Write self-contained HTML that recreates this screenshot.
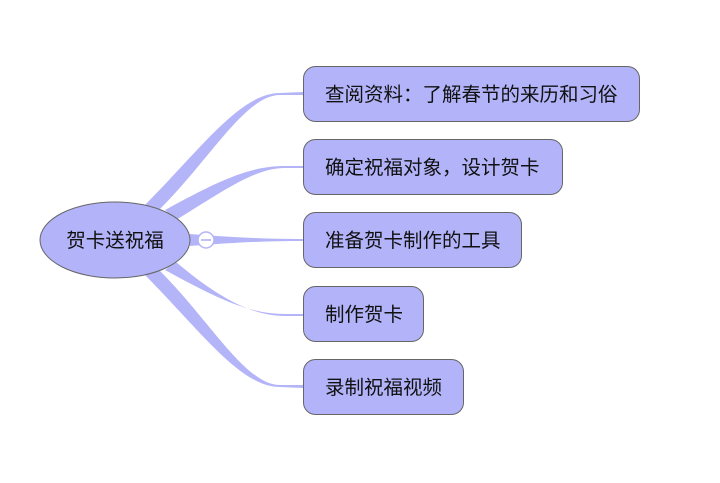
<!DOCTYPE html>
<html><head><meta charset="utf-8"><style>
body{margin:0;background:#fff;width:720px;height:478px;overflow:hidden}
svg text{font-family:"Liberation Sans","Noto Sans CJK SC",sans-serif;font-size:19.5px;fill:#111}
</style></head><body>
<svg width="720" height="478" viewBox="0 0 720 478" xmlns="http://www.w3.org/2000/svg">
<g fill="#b4b4f8">
<path d="M143,207 C200,150 240,93 280,93 L303,92 L303,95 L280,95 C245,95 210,160 157,212 Z"/>
<path d="M165,210 C220,180 250,166 285,166 L303,166 L303,168 L285,168 C255,168 225,190 176,220 Z"/>
<path d="M190,234 C240,238 270,239 303,239 L303,241 C270,241 240,242 190,246 Z"/>
<path d="M165,270 C220,300 250,314 285,314 L303,314 L303,316 L285,316 C250,316 215,295 176,262 Z"/>
<path d="M143,273 C200,330 240,387 280,387 L303,388 L303,385 L280,385 C245,385 210,320 157,268 Z"/>
</g>
<ellipse cx="115" cy="240" rx="75" ry="38" fill="#b3b3fa" stroke="#666" stroke-width="1"/>
<text x="115" y="247" text-anchor="middle">贺卡送祝福</text>
<circle cx="206" cy="240" r="8" fill="#fff" stroke="#b4b4f8" stroke-width="1.5"/>
<line x1="201" y1="240" x2="211" y2="240" stroke="#9a9ae8" stroke-width="1.2"/>
<g fill="#b3b3fa" stroke="#666" stroke-width="1">
<rect x="303.5" y="66.5" width="336" height="55" rx="12"/>
<rect x="303.5" y="139.5" width="259" height="55" rx="12"/>
<rect x="303.5" y="212.5" width="218" height="55" rx="12"/>
<rect x="303.5" y="286.5" width="120" height="55" rx="12"/>
<rect x="303.5" y="359.5" width="160" height="55" rx="12"/>
</g>
<text x="325" y="101">查阅资料：了解春节的来历和习俗</text>
<text x="325" y="174">确定祝福对象，设计贺卡</text>
<text x="325" y="247">准备贺卡制作的工具</text>
<text x="325" y="321">制作贺卡</text>
<text x="325" y="394">录制祝福视频</text>
</svg>
</body></html>
